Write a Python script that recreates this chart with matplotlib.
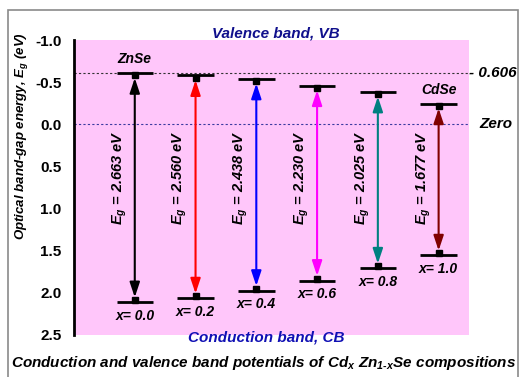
import numpy as np
import matplotlib
matplotlib.use("Agg")
import matplotlib.pyplot as plt
from matplotlib.patches import Rectangle

# ---------------------------
# DATA
# ---------------------------
compositions = [0.0, 0.2, 0.4, 0.6, 0.8, 1.0]
vb_levels = [-0.606, -0.58, -0.54, -0.46, -0.385, -0.245]
cb_levels = [2.11, 2.065, 1.975, 1.855, 1.71, 1.555]
band_gaps = ["2.663", "2.560", "2.438", "2.230", "2.025", "1.677"]
arrow_colors = ["black", "#ff0000", "#0000ff", "#ff00ff", "#008080", "#800000"]
y_ticks = [-1.0, -0.5, 0.0, 0.5, 1.0, 1.5, 2.0, 2.5]

# ---------------------------
# STYLE
# ---------------------------
plt.rcParams["font.family"] = ["Liberation Sans", "DejaVu Sans"]
plt.rcParams["font.weight"] = "bold"
plt.rcParams["font.style"] = "italic"
plt.rcParams["mathtext.fontset"] = "custom"
plt.rcParams["mathtext.rm"] = "Liberation Sans:bold:italic"
plt.rcParams["mathtext.it"] = "Liberation Sans:bold:italic"
plt.rcParams["mathtext.bf"] = "Liberation Sans:bold:italic"

fig = plt.figure(figsize=(5.21, 3.77), dpi=100)
W, H = 521, 377

def fx(px):
    return px / W

def fy(py):
    return 1 - py / H

# gray frame round the figure
fig.patches.append(Rectangle((fx(8), -0.05), fx(510), fy(10) + 0.05,
                             transform=fig.transFigure, fill=False,
                             edgecolor="#8a8a8a", lw=1.2))

ax = fig.add_axes([fx(74), fy(335), fx(469 - 74), (335 - 40) / H])
ax.set_facecolor("#ffc6fa")
ax.set_xlim(-0.2, 1.1)
ax.set_ylim(2.5, -1.0)

for s in ["top", "right", "bottom"]:
    ax.spines[s].set_visible(False)
ax.spines["left"].set_linewidth(2)
ax.set_xticks([])
ax.set_yticks(y_ticks)
ax.set_yticklabels([f"{t:.1f}" for t in y_ticks], fontsize=11,
                   fontweight="bold", fontstyle="normal")
ax.tick_params(axis="y", length=0, pad=9)

# reference lines
ax.axhline(vb_levels[0], color="#333333", lw=0.8, ls=(0, (2, 2)))
ax.axhline(0.0, color="#3a3aa0", lw=0.8, ls=(0, (2, 2)))

# ---------------------------
# LEVELS AND ARROWS
# ---------------------------
half = 0.06
for x, vb, cb, eg, c in zip(compositions, vb_levels, cb_levels, band_gaps, arrow_colors):
    ax.hlines([vb, cb], x - half, x + half, colors="black", lw=2)
    ax.annotate("", xy=(x, vb + 0.04), xytext=(x, cb - 0.04),
                arrowprops=dict(arrowstyle="<|-|>,head_length=0.9,head_width=0.3",
                                color=c, lw=1.5, shrinkA=1, shrinkB=1))
    ax.plot([x, x], [vb + 0.025, cb - 0.025], ls="none", marker="s", ms=4.5,
            color="black")
    ax.text(x - 0.05, 0.07, f"$E_g$ = {eg} eV", rotation=90, ha="center",
            va="top", fontsize=10.5)
    ax.text(x, cb + 0.08, f"x= {x:.1f}", ha="center", va="top", fontsize=10)

ax.text(compositions[0], vb_levels[0] - 0.08, "ZnSe", ha="center", va="bottom", fontsize=10)
ax.text(compositions[-1], vb_levels[-1] - 0.08, "CdSe", ha="center", va="bottom", fontsize=10)

# ---------------------------
# ANNOTATIONS
# ---------------------------
ax.text(1.1, vb_levels[0], "- 0.606", ha="left", va="center", fontsize=11,
        clip_on=False)
ax.text(1.133, 0.0, "Zero", ha="left", va="center", fontsize=11, clip_on=False)

fig.text(fx(276), fy(33), "Valence band, VB", ha="center", va="center",
         fontsize=11, color="#10108c")
fig.text(fx(266), fy(338), "Conduction band, CB", ha="center", va="center",
         fontsize=11, color="#1010b4")
fig.text(fx(22), fy(136), "Optical band-gap energy, $E_g$ (eV)", rotation=90,
         ha="center", va="center", fontsize=9.5)
fig.text(fx(264), fy(363),
         r"Conduction and valence band potentials of Cd$_x$ Zn$_{1\text{-}x}$Se compositions",
         ha="center", va="center", fontsize=11)

fig.savefig("out.png", dpi=100)
